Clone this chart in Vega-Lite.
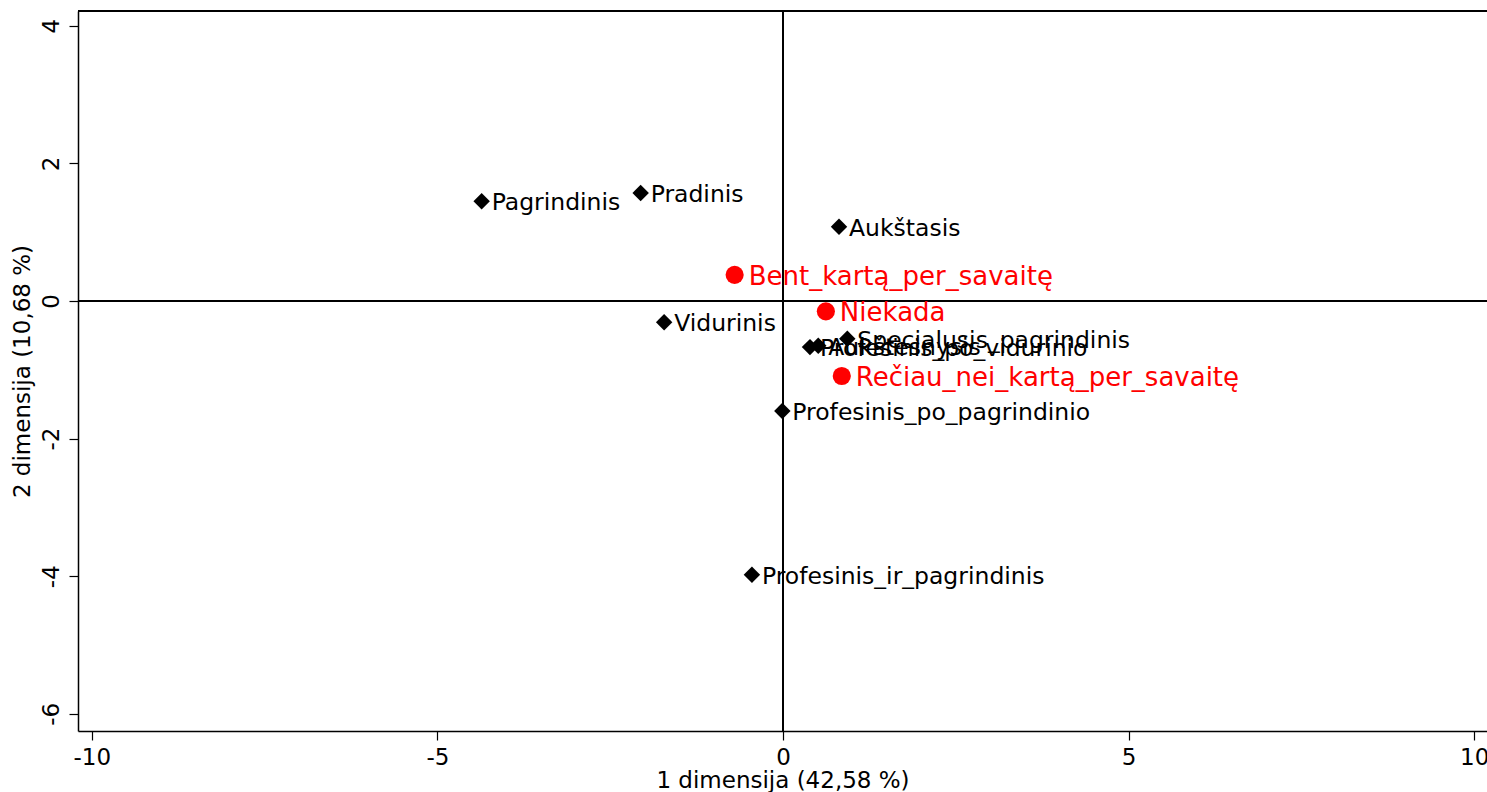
{
  "$schema": "https://vega.github.io/schema/vega-lite/v6.json",
  "width": 1409,
  "height": 720,
  "autosize": {"type": "none"},
  "padding": {"left": 78, "top": 11, "right": 0, "bottom": 61},
  "background": "white",
  "config": {
    "view": {"stroke": null},
    "font": "DejaVu Sans",
    "text": {"font": "DejaVu Sans"}
  },
  "data": {
    "values": [
      {"label": "Pagrindinis", "dim1": -4.36, "dim2": 1.45, "type": "row"},
      {"label": "Pradinis", "dim1": -2.06, "dim2": 1.57, "type": "row"},
      {"label": "Aukštasis", "dim1": 0.81, "dim2": 1.08, "type": "row"},
      {"label": "Vidurinis", "dim1": -1.72, "dim2": -0.31, "type": "row"},
      {"label": "Specialusis_pagrindinis", "dim1": 0.93, "dim2": -0.55, "type": "row"},
      {"label": "Profesinis_po_vidurinio", "dim1": 0.39, "dim2": -0.67, "type": "row"},
      {"label": "Aukštesnysis", "dim1": 0.51, "dim2": -0.65, "type": "row"},
      {"label": "Profesinis_po_pagrindinio", "dim1": -0.01, "dim2": -1.6, "type": "row"},
      {"label": "Profesinis_ir_pagrindinis", "dim1": -0.45, "dim2": -3.98, "type": "row"},
      {"label": "Bent_kartą_per_savaitę", "dim1": -0.7, "dim2": 0.38, "type": "col"},
      {"label": "Niekada", "dim1": 0.62, "dim2": -0.15, "type": "col"},
      {"label": "Rečiau_nei_kartą_per_savaitę", "dim1": 0.85, "dim2": -1.09, "type": "col"}
    ]
  },
  "layer": [
    {
      "mark": {"type": "rule", "color": "black", "strokeWidth": 1.3},
      "encoding": {
        "x": {
          "datum": 0,
          "type": "quantitative",
          "scale": {"domain": [-10.2, 10.185], "nice": false, "zero": false},
          "axis": {
            "title": "1 dimensija (42,58 %)",
            "values": [-10, -5, 0, 5, 10],
            "labelExpr": "datum.value + ''",
            "grid": false,
            "domain": true,
            "domainColor": "black",
            "domainWidth": 1.5,
            "tickSize": 9,
            "tickColor": "black",
            "tickWidth": 1.2,
            "labelFontSize": 23,
            "labelColor": "black",
            "labelPadding": 6,
            "labelFlush": false,
            "labelOverlap": false,
            "titleFontSize": 23,
            "titleFontWeight": "normal",
            "titleColor": "black",
            "titlePadding": 0
          }
        }
      }
    },
    {
      "mark": {"type": "rule", "color": "black", "strokeWidth": 1.3},
      "encoding": {
        "y": {
          "datum": 0,
          "type": "quantitative",
          "scale": {"domain": [-6.25, 4.215], "nice": false, "zero": false},
          "axis": {
            "title": "2 dimensija (10,68 %)",
            "values": [-6, -4, -2, 0, 2, 4],
            "labelExpr": "datum.value + ''",
            "grid": false,
            "domain": true,
            "domainColor": "black",
            "domainWidth": 1.5,
            "tickSize": 9,
            "tickColor": "black",
            "tickWidth": 1.2,
            "labelFontSize": 23,
            "labelColor": "black",
            "labelAngle": 270,
            "labelAlign": "center",
            "labelBaseline": "alphabetic",
            "labelPadding": 11,
            "labelFlush": false,
            "labelOverlap": false,
            "titleFontSize": 23,
            "titleFontWeight": "normal",
            "titleColor": "black",
            "titlePadding": 6
          }
        }
      }
    },
    {
      "mark": {"type": "rule", "color": "black", "strokeWidth": 1.5},
      "encoding": {"y": {"datum": 4.215, "type": "quantitative"}}
    },
    {
      "mark": {"type": "point", "filled": true, "opacity": 1},
      "encoding": {
        "x": {"field": "dim1", "type": "quantitative"},
        "y": {"field": "dim2", "type": "quantitative"},
        "shape": {"field": "type", "type": "nominal", "scale": {"domain": ["row", "col"], "range": ["diamond", "circle"]}, "legend": null},
        "color": {"field": "type", "type": "nominal", "scale": {"domain": ["row", "col"], "range": ["black", "#ff0000"]}, "legend": null},
        "size": {"field": "type", "type": "nominal", "scale": {"domain": ["row", "col"], "range": [270, 330]}, "legend": null}
      }
    },
    {
      "transform": [{"filter": "datum.type === 'row'"}],
      "mark": {"type": "text", "align": "left", "baseline": "middle", "dx": 10, "dy": 2, "fontSize": 23.5, "color": "black"},
      "encoding": {
        "x": {"field": "dim1", "type": "quantitative"},
        "y": {"field": "dim2", "type": "quantitative"},
        "text": {"field": "label"}
      }
    },
    {
      "transform": [{"filter": "datum.type === 'col'"}],
      "mark": {"type": "text", "align": "left", "baseline": "middle", "dx": 14, "dy": 2, "fontSize": 26, "color": "#ff0000"},
      "encoding": {
        "x": {"field": "dim1", "type": "quantitative"},
        "y": {"field": "dim2", "type": "quantitative"},
        "text": {"field": "label"}
      }
    }
  ]
}
